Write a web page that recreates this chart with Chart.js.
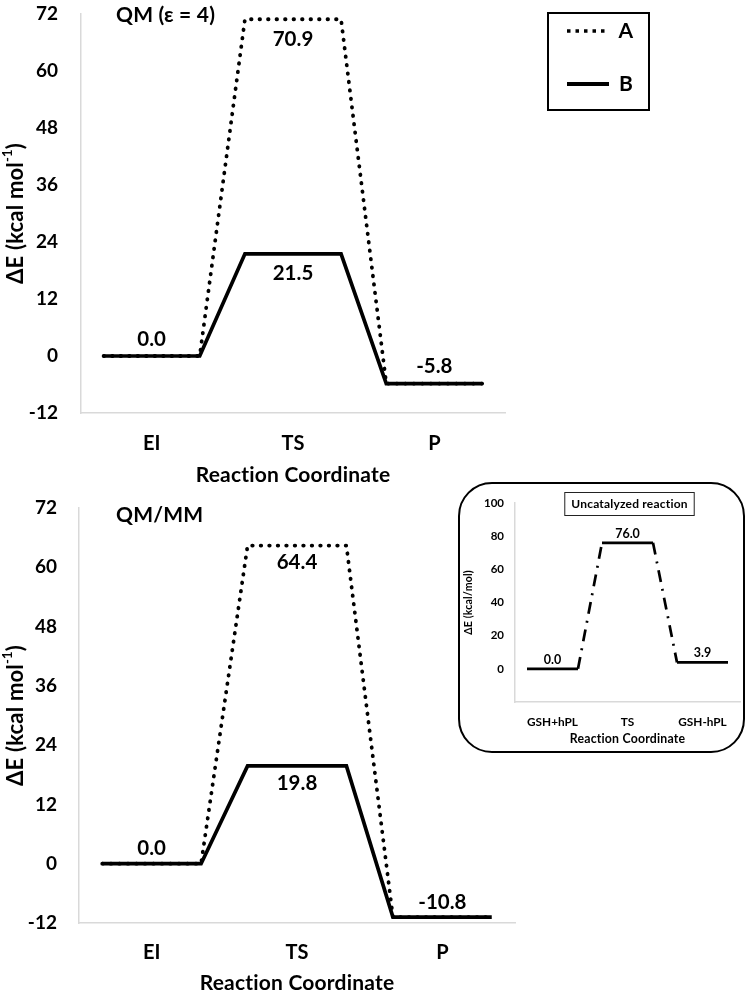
<!DOCTYPE html>
<html><head><meta charset="utf-8">
<script src="https://cdn.jsdelivr.net/npm/chart.js@4.4.1/dist/chart.umd.min.js"></script>
<style>
html,body{margin:0;padding:0;background:#fff;}
body{width:756px;height:993px;position:relative;overflow:hidden;}
.w{position:absolute;}
#w1{left:0;top:0;width:756px;height:495px;}
#w2{left:0;top:495px;width:756px;height:498px;}
#w3{left:458px;top:482px;width:283px;height:267px;border:2px solid #000;border-radius:34px;background:#fff;overflow:hidden;}
</style></head><body>
<div class="w" id="w1"><canvas id="c1"></canvas></div>
<div class="w" id="w2"><canvas id="c2"></canvas></div>
<div class="w" id="w3"><canvas id="c3"></canvas></div>
<script>
// ---- data ----
const categories = ['EI', 'TS', 'P'];
const seriesNames = ['A', 'B'];
const qmA = [0.0, 70.9, -5.8];
const qmB = [0.0, 21.5, -5.8];
const qmmmA = [0.0, 64.4, -10.8];
const qmmmB = [0.0, 19.8, -10.8];
const mainTicks = [-12, 0, 12, 24, 36, 48, 60, 72];
const uncatCategories = ['GSH+hPL', 'TS', 'GSH-hPL'];
const uncatValues = [0.0, 76.0, 3.9];
const uncatTicks = [-20, 0, 20, 40, 60, 80, 100];

// ---- helpers ----
const FONT = "Lato, 'Open Sans', 'DejaVu Sans', sans-serif";
const HALF = 0.34; // half width of each energy level (in category units)
function levels(vals) {
  const pts = [];
  vals.forEach((v, i) => { pts.push({x: i - HALF, y: v}); pts.push({x: i + HALF, y: v}); });
  return pts;
}
function bold(px) { return 'bold ' + px + 'px ' + FONT; }

function levelLabelsPlugin(cfg) {
  return {
    id: 'levelLabels',
    afterDatasetsDraw(chart) {
      const ctx = chart.ctx, xs = chart.scales.x, ys = chart.scales.y;
      const seen = new Set();
      ctx.save();
      ctx.font = bold(cfg.size);
      ctx.fillStyle = '#000';
      ctx.textAlign = 'center';
      ctx.textBaseline = 'middle';
      chart.data.datasets.forEach(ds => {
        const vals = ds.levelValues;
        const mx = Math.max(...vals);
        vals.forEach((v, i) => {
          const key = i + '|' + v;
          if (seen.has(key)) return;
          seen.add(key);
          const x = xs.getPixelForValue(i);
          let y = ys.getPixelForValue(v);
          if (cfg.peakBelow && v === mx) y += cfg.below; else y -= cfg.above;
          ctx.fillText(v.toFixed(1), x, y);
        });
      });
      ctx.restore();
    }
  };
}

function decoPlugin(cfg) {
  return {
    id: 'deco',
    afterDraw(chart) {
      const ctx = chart.ctx, a = chart.chartArea;
      ctx.save();
      ctx.fillStyle = '#000';
      if ('letterSpacing' in ctx) ctx.letterSpacing = '0.2px';
      // y title with optional superscript
      ctx.save();
      ctx.translate(cfg.yTitleX, (a.top + a.bottom) / 2);
      ctx.rotate(-Math.PI / 2);
      ctx.textBaseline = 'middle';
      ctx.textAlign = 'left';
      let total = 0;
      cfg.yTitle.forEach(p => { ctx.font = bold(p.size); total += ctx.measureText(p.t).width; });
      let cx = -total / 2;
      cfg.yTitle.forEach(p => {
        ctx.font = bold(p.size);
        ctx.fillText(p.t, cx, p.rise ? -p.rise : 0);
        cx += ctx.measureText(p.t).width;
      });
      ctx.restore();
      // x title
      ctx.font = bold(cfg.xTitleSize);
      ctx.textAlign = 'center';
      ctx.textBaseline = 'middle';
      ctx.fillText('Reaction Coordinate', (a.left + a.right) / 2 + (cfg.xTitleDx || 0), cfg.xTitleY);
      // chart title
      if (cfg.title) {
        ctx.font = bold(cfg.title.size);
        if (cfg.title.boxed) {
          const w = ctx.measureText(cfg.title.text).width;
          const cxm = (a.left + a.right) / 2 + cfg.title.dx;
          ctx.lineWidth = 1;
          ctx.strokeStyle = '#222';
          ctx.strokeRect(cxm - w / 2 - 6.5, cfg.title.y - 11.5, w + 13, 23);
          ctx.textAlign = 'center';
          ctx.fillText(cfg.title.text, cxm, cfg.title.y);
        } else {
          ctx.textAlign = 'left';
          ctx.fillText(cfg.title.text, cfg.title.x, cfg.title.y);
        }
      }
      // legend
      if (cfg.legend) {
        ctx.lineWidth = 2;
        ctx.strokeStyle = '#000';
        ctx.strokeRect(548, 13, 101, 97);
        ctx.beginPath();
        ctx.setLineDash([3.5, 5]);
        ctx.lineWidth = 3.5;
        ctx.moveTo(567, 31); ctx.lineTo(609, 31); ctx.stroke();
        ctx.setLineDash([]);
        ctx.beginPath();
        ctx.lineWidth = 4.2;
        ctx.moveTo(567, 84); ctx.lineTo(609, 84); ctx.stroke();
        ctx.font = bold(21);
        ctx.textAlign = 'center';
        ctx.fillText(seriesNames[0], 626, 31);
        ctx.fillText(seriesNames[1], 626, 84);
      }
      ctx.restore();
    }
  };
}

function axisBase(opt) {
  return {
    x: {
      type: 'linear', min: -0.5, max: 2.5,
      afterBuildTicks: s => { s.ticks = opt.cats.map((c, i) => ({value: i})); },
      afterFit: s => { s.height = opt.xh; s.paddingLeft = 0; s.paddingRight = 0; },
      grid: {display: false, drawTicks: false},
      border: {display: true, color: '#d9d9d9', width: 1.5},
      ticks: {callback: v => opt.cats[v], font: {family: FONT, size: opt.catSize, weight: 'bold'}, color: '#000', padding: opt.xpad, maxRotation: 0, autoSkip: false}
    },
    y: {
      type: 'linear', min: opt.ymin, max: opt.ymax,
      afterBuildTicks: s => { s.ticks = opt.yticks.map(v => ({value: v})); },
      afterFit: s => { s.width = opt.yw; s.paddingTop = 0; s.paddingBottom = 0; },
      grid: {display: false, drawTicks: false},
      border: {display: true, color: '#d9d9d9', width: 1.5},
      ticks: {callback: v => (opt.hideMin && v === opt.ymin) ? '' : String(v), font: {family: FONT, size: opt.tickSize, weight: 'bold'}, color: '#000', padding: opt.ypad}
    }
  };
}

function mainChart(id, A, B, opt) {
  return new Chart(document.getElementById(id), {
    type: 'line',
    data: {datasets: [
      {label: seriesNames[0], data: levels(A), levelValues: A, borderColor: '#000', borderWidth: 3.8, borderDash: [0.5, 8], borderCapStyle: 'round', pointRadius: 0, fill: false, tension: 0},
      {label: seriesNames[1], data: levels(B), levelValues: B, borderColor: '#000', borderWidth: 3.7, pointRadius: 0, fill: false, tension: 0}
    ]},
    options: {
      responsive: true, maintainAspectRatio: false, animation: false,
      layout: {padding: {left: 0, top: opt.top, right: opt.right, bottom: 0}},
      plugins: {legend: {display: false}, tooltip: {enabled: false}},
      scales: axisBase(Object.assign({cats: categories, ymin: -12, ymax: 72, yticks: mainTicks, tickSize: 19, catSize: 20}, opt))
    },
    plugins: [levelLabelsPlugin({size: 20.5, above: opt.above, below: opt.below, peakBelow: true}), decoPlugin(opt.deco)]
  });
}

mainChart('c1', qmA, qmB, {
  top: 14, right: 251, xh: 82, yw: 81, xpad: 19, ypad: 23, above: 17, below: 20,
  deco: {yTitleX: 16, yTitle: [{t: 'ΔE (kcal mol', size: 22}, {t: '-1', size: 13, rise: 8}, {t: ')', size: 22}],
         xTitleSize: 21, xTitleY: 475, title: {text: 'QM (ε = 4)', x: 116, y: 15, size: 21}, legend: true}
});

mainChart('c2', qmmmA, qmmmB, {
  top: 13, right: 241, xh: 70, yw: 79, xpad: 18, ypad: 22, above: 15, below: 17,
  deco: {yTitleX: 16, yTitle: [{t: 'ΔE (kcal mol', size: 22}, {t: '-1', size: 13, rise: 8}, {t: ')', size: 22}],
         xTitleSize: 21, xTitleY: 488, title: {text: 'QM/MM', x: 116, y: 20, size: 21}}
});

new Chart(document.getElementById('c3'), {
  type: 'line',
  data: {datasets: [
    {label: 'Uncatalyzed', data: levels(uncatValues), levelValues: uncatValues, borderColor: '#000', borderWidth: 2.7, pointRadius: 0, fill: false, tension: 0,
     segment: {borderDash: c => (c.p0DataIndex % 2 === 1) ? [12, 7, 2, 7] : undefined}}
  ]},
  options: {
    responsive: true, maintainAspectRatio: false, animation: false,
    layout: {padding: {left: 0, top: 19, right: 3, bottom: 0}},
    plugins: {legend: {display: false}, tooltip: {enabled: false}},
    scales: axisBase({cats: uncatCategories, ymin: -20, ymax: 100, yticks: uncatTicks, hideMin: true, tickSize: 11.5, catSize: 11.8, xh: 49, yw: 55, xpad: 13, ypad: 11})
  },
  plugins: [levelLabelsPlugin({size: 12.5, above: 9, below: 9, peakBelow: false}),
            decoPlugin({yTitleX: 9, yTitle: [{t: 'ΔE (kcal/mol)', size: 10.5}], xTitleSize: 12.3, xTitleY: 255, xTitleDx: 0,
                        title: {text: 'Uncatalyzed reaction', boxed: true, dx: 2, y: 20, size: 12}})]
});
</script>
</body></html>
